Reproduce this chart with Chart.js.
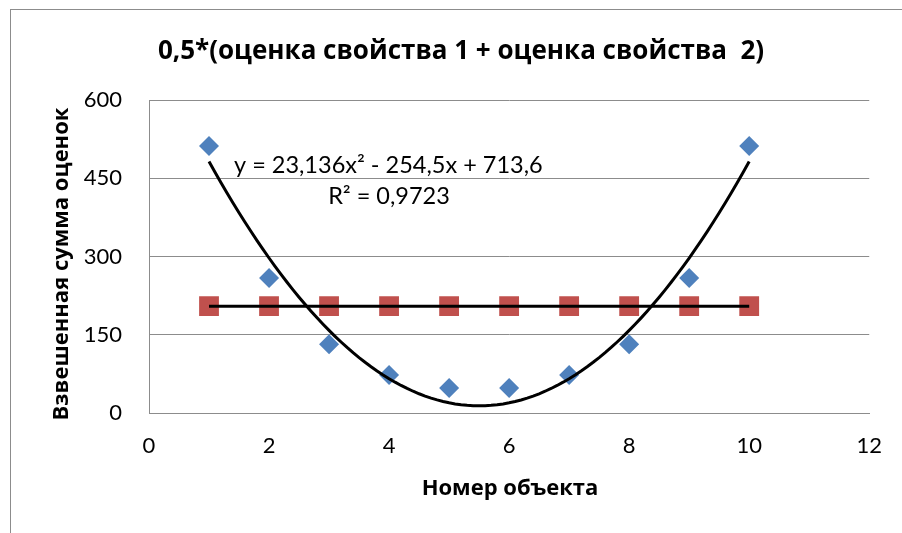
<!DOCTYPE html>
<html>
<head>
<meta charset="utf-8">
<script src="https://cdn.jsdelivr.net/npm/chart.js@4.4.1/dist/chart.umd.min.js"></script>
<style>
  html, body { margin: 0; padding: 0; background: #fff; }
  #wrap { width: 902px; height: 533px; }
</style>
</head>
<body>
<div id="wrap"><canvas id="chart" width="902" height="533"></canvas></div>
<script>
// Data
const objectNumbers = [1, 2, 3, 4, 5, 6, 7, 8, 9, 10];
const weightedScores = [512, 259, 132, 73, 48, 48, 73, 132, 259, 512];
const meanScores = [204.8, 204.8, 204.8, 204.8, 204.8, 204.8, 204.8, 204.8, 204.8, 204.8];
const xTicks = [0, 2, 4, 6, 8, 10, 12];
const yTicks = [0, 150, 300, 450, 600];
// Polynomial trendline coefficients shown on the chart (a*x^2 + b*x + c)
const trendCoef = [23.136, -254.5, 713.6];

const FONT = 'Lato, "Open Sans", sans-serif';
const BOLD_FONT = '"Open Sans", Lato, sans-serif';

// Build the trend curve and the flat line from the values above
const trendPoints = [];
for (let i = 0; i <= 90; i++) {
    const x = 1 + i * 0.1;
    trendPoints.push({ x: x, y: trendCoef[0] * x * x + trendCoef[1] * x + trendCoef[2] });
}
const meanValue = meanScores.reduce((s, v) => s + v, 0) / meanScores.length;
const meanLine = [
    { x: objectNumbers[0], y: meanValue },
    { x: objectNumbers[objectNumbers.length - 1], y: meanValue }
];

// Frame, titles and the trendline label
const decorations = {
    id: 'decorations',
    beforeDraw(chart) {
        const ctx = chart.ctx;
        ctx.save();
        ctx.fillStyle = '#fff';
        ctx.fillRect(0, 0, chart.width, chart.height);
        ctx.strokeStyle = '#8c8c8c';
        ctx.lineWidth = 1;
        ctx.strokeRect(10.5, 9.5, 1000, 1000);
        ctx.restore();
    },
    afterDraw(chart) {
        const ctx = chart.ctx;
        ctx.save();
        ctx.fillStyle = '#000';
        ctx.textAlign = 'center';
        ctx.textBaseline = 'middle';

        ctx.font = 'bold 26px ' + BOLD_FONT;
        ctx.fillText('0,5*(оценка свойства 1 + оценка свойства  2)', 461, 52);

        ctx.font = 'bold 22px ' + BOLD_FONT;
        ctx.fillText('Номер объекта', 510, 489);

        ctx.save();
        ctx.translate(62, 264);
        ctx.rotate(-Math.PI / 2);
        ctx.fillText('Взвешенная сумма оценок', 0, 0);
        ctx.restore();

        ctx.font = '23.5px ' + FONT;
        ctx.textAlign = 'left';
        ctx.fillText('y = 23,136x² - 254,5x + 713,6', 234, 165);
        ctx.textAlign = 'center';
        ctx.fillText('R² = 0,9723', 389, 196);
        ctx.restore();
    }
};

const ctx = document.getElementById('chart').getContext('2d');
new Chart(ctx, {
    type: 'scatter',
    data: {
        datasets: [
            {
                label: 'Полиномиальная',
                data: trendPoints,
                showLine: true,
                borderColor: '#000',
                borderWidth: 3,
                pointRadius: 0,
                tension: 0,
                order: 0
            },
            {
                label: 'Линейная',
                data: meanLine,
                showLine: true,
                borderColor: '#000',
                borderWidth: 3,
                pointRadius: 0,
                order: 0
            },
            {
                label: 'Взвешенная сумма',
                data: objectNumbers.map((x, i) => ({ x: x, y: weightedScores[i] })),
                pointStyle: 'rectRot',
                pointRadius: 10,
                backgroundColor: '#4F81BD',
                borderColor: '#4F81BD',
                borderWidth: 0,
                order: 1
            },
            {
                label: 'Среднее',
                data: objectNumbers.map((x, i) => ({ x: x, y: meanScores[i] })),
                pointStyle: 'rect',
                pointRadius: 14,
                backgroundColor: '#C0504D',
                borderColor: '#C0504D',
                borderWidth: 0,
                order: 2
            }
        ]
    },
    options: {
        responsive: false,
        animation: false,
        events: [],
        layout: { padding: { left: 0, top: 100, right: 29, bottom: 0 } },
        plugins: {
            legend: { display: false },
            tooltip: { enabled: false },
            title: { display: false }
        },
        scales: {
            x: {
                type: 'linear',
                min: xTicks[0],
                max: xTicks[xTicks.length - 1],
                afterBuildTicks: axis => { axis.ticks = xTicks.map(v => ({ value: v })); },
                afterFit: axis => { axis.height = 120; },
                grid: { display: false, drawTicks: false },
                border: { display: true, color: '#8c8c8c', width: 1 },
                ticks: { color: '#000', padding: 20, font: { family: FONT, size: 22 } }
            },
            y: {
                type: 'linear',
                min: yTicks[0],
                max: yTicks[yTicks.length - 1],
                afterBuildTicks: axis => { axis.ticks = yTicks.map(v => ({ value: v })); },
                afterFit: axis => { axis.width = 149; },
                grid: { color: '#8c8c8c', lineWidth: 1, drawTicks: false },
                border: { display: true, color: '#8c8c8c', width: 1 },
                ticks: { color: '#000', padding: 27, font: { family: FONT, size: 22 } }
            }
        }
    },
    plugins: [decorations]
});
</script>
</body>
</html>
